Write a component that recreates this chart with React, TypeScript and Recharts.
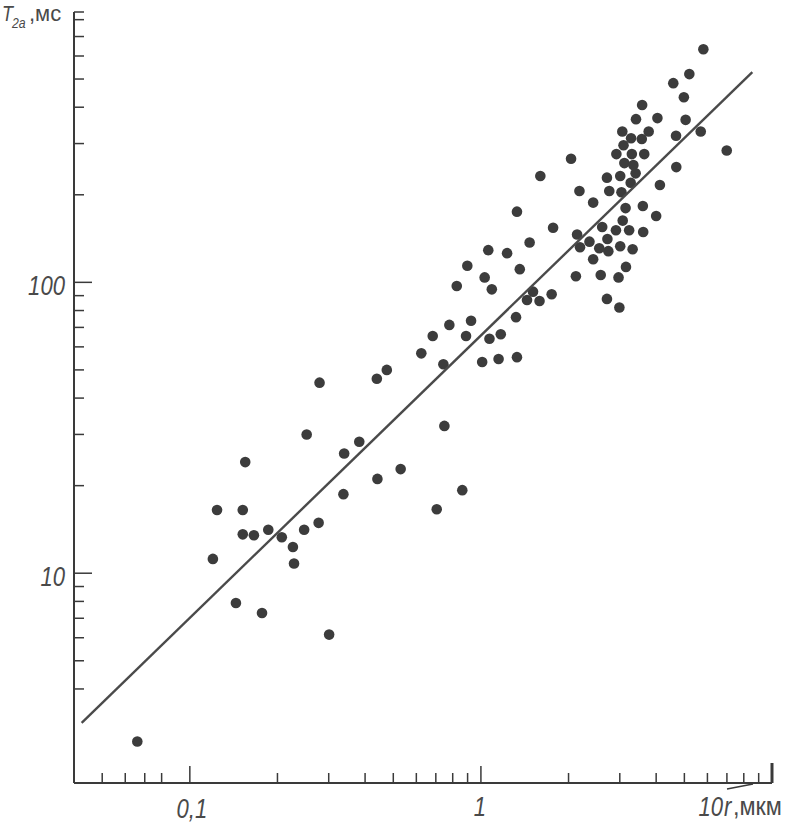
import React from "react"
import { ScatterChart, Scatter, XAxis, YAxis } from "recharts"

// mean radius, µm
const radii = [
  0.155, 0.124, 0.152, 0.152, 0.166, 0.186, 0.207, 0.226, 0.228, 0.247, 0.277, 0.12, 0.144, 0.177, 0.301, 0.066,
  1.06, 1.23, 0.898, 1.03, 1.09, 0.826, 1.36, 1.32, 0.925, 0.779, 0.683, 0.889, 1.07, 1.17, 0.624, 0.743,
  1.01, 1.15, 1.33, 0.475, 0.439, 0.279, 0.749, 0.252, 0.382, 0.339, 0.53, 0.441, 0.337, 0.863, 0.705,
  2.04, 1.6, 2.18, 2.43, 1.33, 1.77, 1.47, 1.51, 1.44, 1.59, 1.75, 2.12, 2.58, 2.97, 3.15, 2.71, 2.99,
  2.43, 2.14, 2.19, 2.36, 2.55, 2.74, 3.01, 3.32, 2.72, 2.91, 3.23, 2.61, 3.07, 3.14, 2.71, 3.01, 2.76,
  3.04, 3.27, 3.4, 3.11, 2.92, 3.3, 3.09, 3.34, 4.12, 3.6, 4.0, 3.61, 4.69, 5.81, 5.2, 4.58, 4.98, 3.58,
  3.41, 4.04, 5.05, 3.06, 3.77, 3.28, 3.57, 4.68, 5.69, 3.64, 6.99,
]

// T2a, ms
const t2a = [
  24.1, 16.5, 16.5, 13.6, 13.5, 14.1, 13.3, 12.3, 10.8, 14.1, 14.9, 11.2, 7.9, 7.3, 6.15, 2.64,
  129, 126, 114, 104, 94.6, 97.1, 111, 75.9, 73.8, 71.4, 65.4, 65.4, 64.0, 66.3, 57.0, 52.3,
  53.2, 54.5, 55.3, 50.0, 46.6, 45.2, 32.1, 30.0, 28.3, 25.8, 22.8, 21.1, 18.7, 19.3, 16.6,
  266, 232, 206, 188, 175, 154, 137, 92.9, 87.0, 86.3, 91.0, 105, 106, 104, 113, 87.7, 81.9,
  120, 146, 132, 138, 131, 128, 133, 130, 141, 151, 151, 155, 163, 180, 229, 232, 206,
  204, 220, 237, 257, 276, 276, 296, 253, 216, 183, 169, 149, 249, 633, 520, 484, 433, 407,
  364, 367, 362, 330, 330, 313, 311, 319, 330, 276, 284,
]

const fitR = [0.0425, 8.56]
const fitT = [3.06, 528]

const xTicks = [0.05, 0.06, 0.07, 0.08, 0.1, 0.2, 0.3, 0.4, 0.5, 0.6, 0.7, 0.8, 0.9, 1, 2, 3, 4, 5, 6, 7, 8, 9, 10]
const yTicks = [4, 5, 6, 7, 8, 9, 10, 20, 30, 40, 50, 60, 70, 80, 90, 100, 200, 300, 400, 500, 600, 700, 800, 850]
const xLabels: Record<number, string> = { 0.1: "0,1", 1: "1", 10: "10" }
const yLabels: Record<number, string> = { 10: "10", 100: "100" }

const points = radii.map((r, i) => ({ r, t: t2a[i] }))
const fit = fitR.map((r, i) => ({ r, t: fitT[i] }))

const AXIS_X = 74
const AXIS_Y = 783
const INK = "#3a3a3a"
const FONT = "'Liberation Sans', Arial, sans-serif"

const Label = ({ x, y, text, size = 27, anchor = "middle", italic = true, sx = 0.82 }: any) => (
  <text
    x={0}
    y={0}
    transform={`translate(${x},${y}) scale(${sx},1)`}
    textAnchor={anchor}
    fontFamily={FONT}
    fontStyle={italic ? "italic" : "normal"}
    fontSize={size}
    fill="#4a4a4a"
  >
    {text}
  </text>
)

const XTick = (props: any) => {
  const v = props.payload.value
  const cx = props.payload.coordinate ?? props.x
  const major = v in xLabels
  const len = v === 10 ? 20 : major ? 17 : 10
  return (
    <g>
      <line x1={cx} x2={cx} y1={AXIS_Y} y2={AXIS_Y - len} stroke={INK} strokeWidth={v === 10 ? 3 : 1.5} />
      {v === 0.1 && <Label x={cx + 2} y={818} text={xLabels[v]} />}
      {v === 1 && <Label x={cx - 1} y={816} text={xLabels[v]} />}
      {v === 10 && (
        <g>
          <Label x={723} y={816} text={xLabels[v]} anchor="end" />
          <Label x={724} y={816} text="r" anchor="start" />
          <line x1={727} y1={789} x2={753} y2={784} stroke={INK} strokeWidth={1.5} />
          <Label x={733} y={815} text=",мкм" anchor="start" size={26} italic={false} sx={0.9} />
        </g>
      )}
    </g>
  )
}

const YTick = (props: any) => {
  const v = props.payload.value
  const cy = props.payload.coordinate ?? props.y
  const len = v in yLabels ? 18 : 10
  return (
    <g>
      <line x1={AXIS_X} x2={AXIS_X + len} y1={cy} y2={cy} stroke={INK} strokeWidth={1.5} />
      {v in yLabels && <Label x={65} y={cy + 13} text={yLabels[v]} anchor="end" />}
      {v === 850 && (
        <g>
          <Label x={2} y={21} text="T" anchor="start" size={22} />
          <Label x={12} y={28} text="2a" anchor="start" size={15} />
          <Label x={29} y={21} text=",мс" anchor="start" size={22} italic={false} sx={1} />
        </g>
      )}
    </g>
  )
}

const Dot = (props: any) => <circle cx={props.cx} cy={props.cy} r={5.3} fill="#3c3c3c" />
const NoDot = () => <g />

export default function App() {
  return (
    <div style={{ position: "absolute", left: 0, top: 0, background: "#fff" }}>
      <ScatterChart width={793} height={825} margin={{ top: 12, right: 21, bottom: 0, left: 0 }}>
        <XAxis
          type="number"
          dataKey="r"
          scale="log"
          domain={[0.04, 10]}
          allowDataOverflow
          ticks={xTicks}
          interval={0}
          height={42}
          axisLine={{ stroke: INK, strokeWidth: 2 }}
          tickLine={false}
          tick={<XTick />}
        />
        <YAxis
          type="number"
          dataKey="t"
          scale="log"
          domain={[1.9, 850]}
          allowDataOverflow
          ticks={yTicks}
          interval={0}
          width={74}
          axisLine={{ stroke: INK, strokeWidth: 2 }}
          tickLine={false}
          tick={<YTick />}
        />
        <Scatter data={points} shape={<Dot />} isAnimationActive={false} />
        <Scatter
          data={fit}
          line={{ stroke: "#4a4a4a", strokeWidth: 2.4 }}
          shape={<NoDot />}
          isAnimationActive={false}
        />
      </ScatterChart>
    </div>
  )
}
